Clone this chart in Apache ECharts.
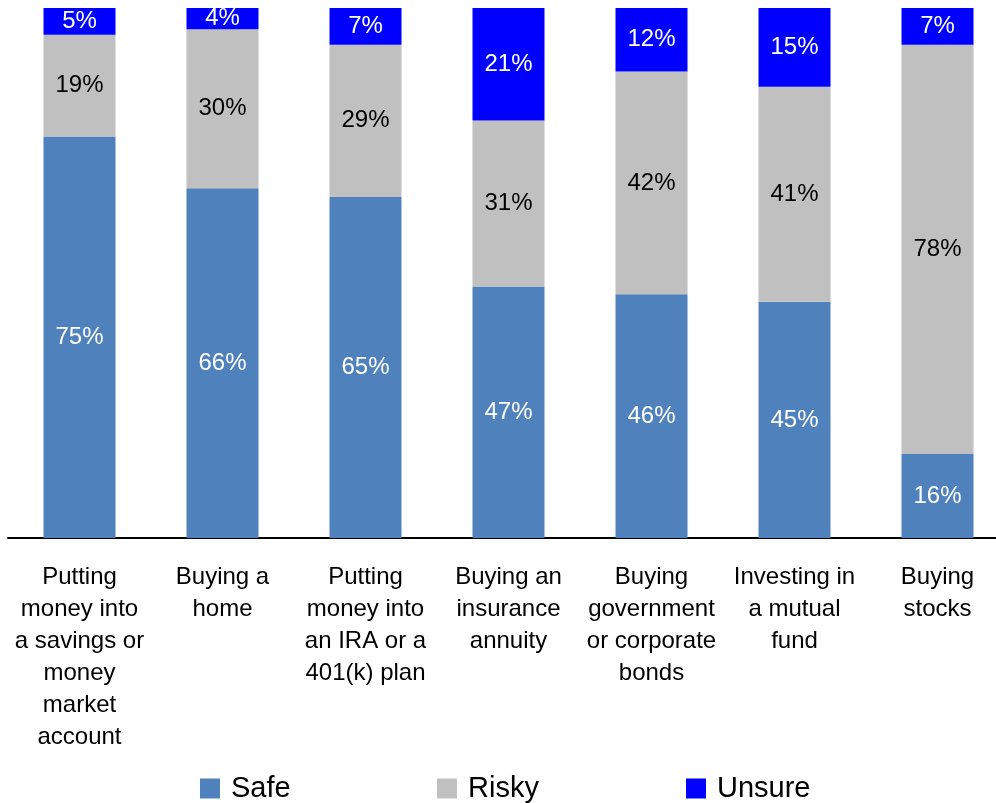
<!DOCTYPE html>
<html>
<head>
<meta charset="utf-8">
<title>Safe or risky</title>
<script src="https://cdn.jsdelivr.net/npm/echarts@6/dist/echarts.min.js"></script>
<style>
    html, body { margin: 0; padding: 0; background: #fff; }
    #chart { width: 996px; height: 803px; }
</style>
</head>
<body>
<div id="chart"></div>
<script>
    // categories, as drawn (with the same line breaks)
    var categories = [
        'Putting\nmoney into\na savings or\nmoney\nmarket\naccount',
        'Buying a\nhome',
        'Putting\nmoney into\nan IRA or a\n401(k) plan',
        'Buying an\ninsurance\nannuity',
        'Buying\ngovernment\nor corporate\nbonds',
        'Investing in\na mutual\nfund',
        'Buying\nstocks'
    ];
    // percentages printed on the bars
    var safe = [75, 66, 65, 47, 46, 45, 16];
    var risky = [19, 30, 29, 31, 42, 41, 78];
    var unsure = [5, 4, 7, 21, 12, 15, 7];

    var font = 'Liberation Sans, Arial, sans-serif';

    // bars are 100% stacked: each column is scaled to its own total
    function share(arr) {
        return arr.map(function (v, i) {
            return v / (safe[i] + risky[i] + unsure[i]) * 100;
        });
    }

    function makeSeries(name, raw, color, labelColor) {
        return {
            name: name,
            type: 'bar',
            stack: 'total',
            barWidth: 72,
            itemStyle: {color: color},
            label: {
                show: true,
                position: 'inside',
                color: labelColor,
                fontFamily: font,
                fontSize: 24,
                formatter: function (p) { return raw[p.dataIndex] + '%'; }
            },
            data: share(raw)
        };
    }

    function legendAt(name, left) {
        return {
            data: [name],
            left: left,
            top: 774,
            padding: 0,
            itemWidth: 20,
            itemHeight: 20,
            icon: 'rect',
            selectedMode: false,
            textStyle: {
                fontFamily: font,
                fontSize: 29,
                lineHeight: 29,
                color: '#000',
                padding: [0, 0, 0, 6]
            }
        };
    }

    var myChart = echarts.init(document.getElementById('chart'));
    myChart.setOption({
        animation: false,
        backgroundColor: '#fff',
        legend: [
            legendAt('Safe', 200),
            legendAt('Risky', 437),
            legendAt('Unsure', 686)
        ],
        grid: {
            left: 8,
            top: 8,
            width: 1001,
            bottom: 265,
            containLabel: false,
            outerBoundsMode: 'none'
        },
        xAxis: {
            type: 'category',
            data: categories,
            axisLine: {lineStyle: {color: '#000', width: 2}},
            axisTick: {show: false},
            axisLabel: {
                interval: 0,
                margin: 23,
                fontFamily: font,
                fontSize: 24,
                lineHeight: 32,
                color: '#000',
                align: 'center'
            }
        },
        yAxis: {
            type: 'value',
            min: 0,
            max: 100,
            show: false,
            splitLine: {show: false}
        },
        series: [
            makeSeries('Safe', safe, '#4F81BD', '#fff'),
            makeSeries('Risky', risky, '#C0C0C0', '#000'),
            makeSeries('Unsure', unsure, '#0000FF', '#fff')
        ]
    });
</script>
</body>
</html>
